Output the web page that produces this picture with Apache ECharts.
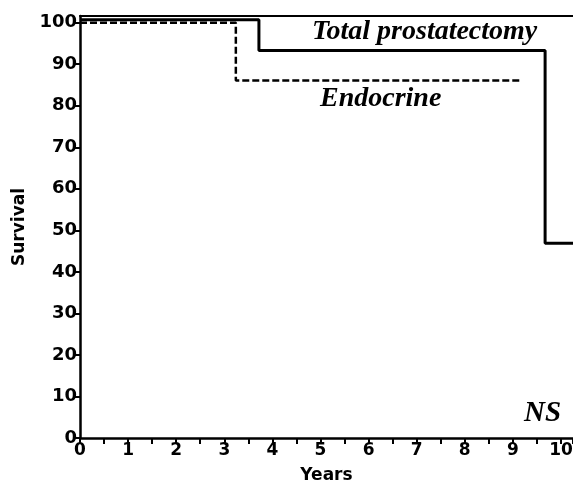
<!DOCTYPE html>
<html>
<head>
<meta charset="utf-8">
<script src="https://cdn.jsdelivr.net/npm/echarts@6/dist/echarts.min.js"></script>
<style>
html, body { margin: 0; padding: 0; background: #fff; }
#chart { width: 573px; height: 487px; }
</style>
</head>
<body>
<div id="chart"></div>
<script>
// survival curves (years, %)
var totalTimes = [0, 3.72, 9.67, 10.25];
var totalSurv = [100.7, 93.3, 46.9, 46.9];
var endoTimes = [0, 3.24, 9.15];
var endoSurv = [100, 86.1, 86.1];
var yTicks = [0, 10, 20, 30, 40, 50, 60, 70, 80, 90, 100];
var xTicks = [0, 1, 2, 3, 4, 5, 6, 7, 8, 9, 10];

// turn (time, survival) into step corners
var steps = function(t, s){
    var pts = [[t[0], s[0]]];
    for(var i = 1; i < t.length; i++){
        pts.push([t[i], s[i-1]]);
        pts.push([t[i], s[i]]);
    }
    return pts;
};

var font = 'DejaVu Sans';
var myChart = echarts.init(document.getElementById('chart'));
myChart.setOption({
    animation: false,
    grid: { left: 80, right: 0, top: 16, bottom: 49, outerBoundsMode: 'none', containLabel: false },
    xAxis: [{
        type: 'value',
        min: 0,
        max: 10.25,
        interval: 1,
        name: 'Years',
        nameLocation: 'middle',
        nameGap: 29,
        nameTextStyle: { fontFamily: font, fontWeight: 'bold', fontSize: 17, color: '#000' },
        axisLine: { lineStyle: { color: '#000', width: 2.5 } },
        axisTick: { length: 6, lineStyle: { color: '#000', width: 2 } },
        minorTick: { show: true, splitNumber: 2, length: 6, lineStyle: { color: '#000', width: 2 } },
        axisLabel: {
            margin: 4, fontFamily: font, fontWeight: 'bold', fontSize: 17, color: '#000',
            showMaxLabel: false,
            formatter: function(v){ return xTicks.indexOf(v) >= 0 ? String(v) : ''; }
        },
        splitLine: { show: false }
    }, {
        type: 'value',
        position: 'top',
        min: 0,
        max: 10.25,
        axisLine: { show: true, onZero: false, lineStyle: { color: '#000', width: 2 } },
        axisTick: { show: false },
        axisLabel: { show: false },
        splitLine: { show: false }
    }],
    yAxis: {
        type: 'value',
        min: 0,
        max: 101.6,
        interval: 10,
        name: 'Survival',
        nameLocation: 'middle',
        nameGap: 50,
        nameTextStyle: { fontFamily: font, fontWeight: 'bold', fontSize: 17, color: '#000' },
        axisLine: { show: true, lineStyle: { color: '#000', width: 2.5 } },
        axisTick: { show: true, length: 6, lineStyle: { color: '#000', width: 2 } },
        axisLabel: {
            margin: 3, fontFamily: font, fontWeight: 'bold', fontSize: 18, color: '#000',
            showMaxLabel: false,
            formatter: function(v){ return yTicks.indexOf(v) >= 0 ? String(v) : ''; }
        },
        splitLine: { show: false }
    },
    series: [{
        name: 'Total prostatectomy',
        type: 'line',
        data: steps(totalTimes, totalSurv),
        symbol: 'none',
        lineStyle: { color: '#000', width: 3 }
    }, {
        name: 'Endocrine',
        type: 'line',
        data: steps(endoTimes, endoSurv),
        symbol: 'none',
        lineStyle: { color: '#000', width: 2.5, type: [7, 3] }
    }],
    graphic: [{
        type: 'text', left: 312, top: 18,
        style: { text: 'Total prostatectomy', font: 'italic bold 28px "Liberation Serif"', fill: '#000' }
    }, {
        type: 'text', left: 320, top: 85,
        style: { text: 'Endocrine', font: 'italic bold 28px "Liberation Serif"', fill: '#000' }
    }, {
        type: 'text', left: 524, top: 399,
        style: { text: 'NS', font: 'italic bold 29px "Liberation Serif"', fill: '#000' }
    }]
});
</script>
</body>
</html>
